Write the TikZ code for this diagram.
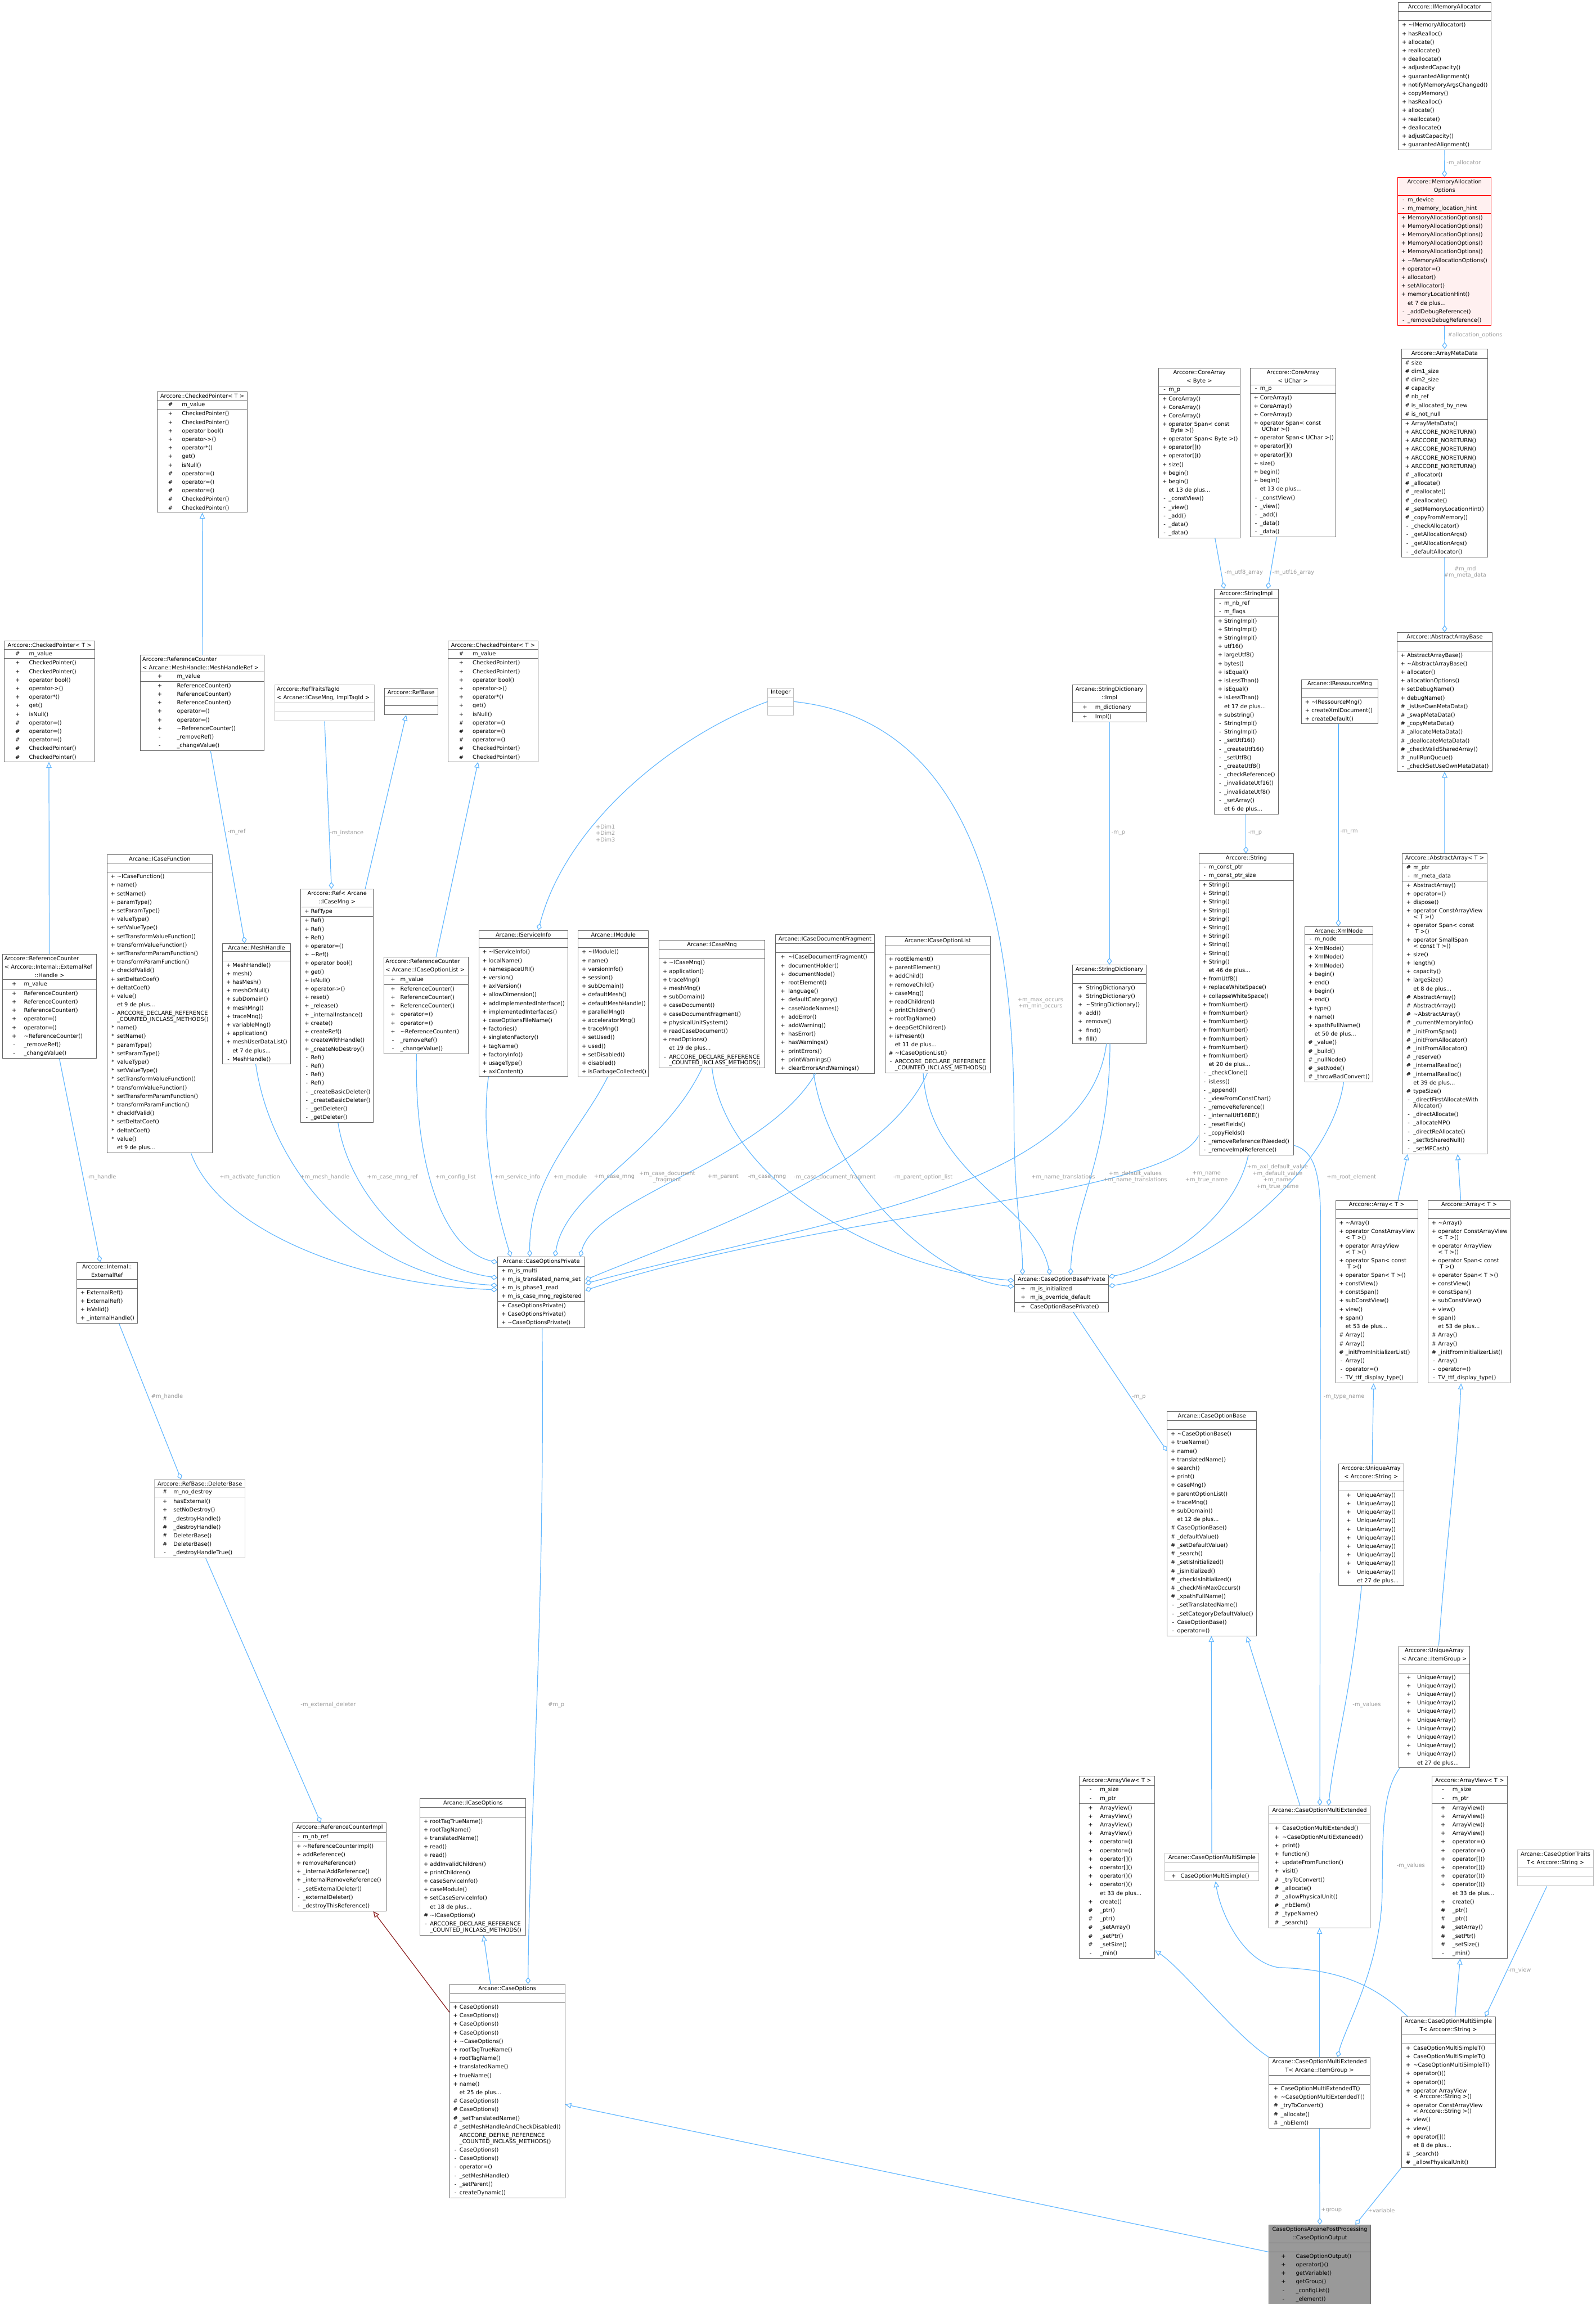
\documentclass[tikz,border=0pt]{standalone}
\usepackage{fontspec}
\setmainfont{DejaVu Sans}
\usetikzlibrary{shapes.multipart,arrows.meta}

\definecolor{boxgray}{HTML}{666666}
\definecolor{undocgray}{HTML}{BFBFBF}
\definecolor{edgeblue}{HTML}{63B8FF}
\definecolor{edgered}{HTML}{8B1A1A}
\definecolor{labelgray}{HTML}{9A9A9A}
\definecolor{allocred}{HTML}{FF0000}
\definecolor{allocfill}{HTML}{FFF0F0}
\definecolor{maingray}{HTML}{999999}

\newlength\visw
\newcommand\classfont{\fontsize{3.67}{5.69}\selectfont\setlength\visw{5.4pt}}
\newcommand\labelfont{\fontsize{3.67}{4.4}\selectfont}
\newcommand\vpub{\makebox[\visw][c]{+}}
\newcommand\vpri{\makebox[\visw][c]{-}}
\newcommand\vpro{\makebox[\visw][c]{\#}}
\newcommand\vpkg{\makebox[\visw][c]{*}}
\newcommand\vno{\makebox[\visw][c]{}}
\newcommand\tld{\textasciitilde}
\newcommand\wrapnl{\\[-1.7pt]}
\newcommand\emptypart{\rule{0pt}{3.4pt}}
\newcommand\ctitle[1]{\makebox[\hsize][c]{#1}}

\tikzset{
  classbox/.style={rectangle split, rectangle split parts=3, draw=boxgray, line width=0.35pt,
    fill=white, font=\classfont, align=left, inner xsep=1.2pt, inner ysep=1.15pt, anchor=north west},
  undoc/.style={classbox, draw=undocgray},
  vis/.style={font={\classfont\setlength\visw{#1}}},
  uses/.style={draw=edgeblue, line width=0.45pt, -{Diamond[open, length=4.6pt, width=3.4pt]}},
  isa/.style={draw=edgeblue, line width=0.45pt, -{Triangle[open, length=4pt, width=3.6pt]}},
  isaprot/.style={isa, draw=edgered},
  elabel/.style={font=\labelfont, text=labelgray, inner sep=0pt, align=center},
}

\begin{document}
\catcode`\_=12
\begin{tikzpicture}[x=0.03437cm, y=-0.03437cm]
  \fill[white] (0,0) rectangle (1086,1568);
  \useasboundingbox (0,0) rectangle (1086,1568);

  % Allocator column (top right)
  \node[classbox, text width=59.1pt] (imemalloc) at (951.4,1.4)
    {\ctitle{Arccore::IMemoryAllocator}
     \nodepart{second}\emptypart
     \nodepart{third}\vpub\tld IMemoryAllocator()\\ \vpub hasRealloc()\\ \vpub allocate()\\
     \vpub reallocate()\\ \vpub deallocate()\\ \vpub adjustedCapacity()\\ \vpub guarantedAlignment()\\
     \vpub notifyMemoryArgsChanged()\\ \vpub copyMemory()\\ \vpub hasRealloc()\\ \vpub allocate()\\
     \vpub reallocate()\\ \vpub deallocate()\\ \vpub adjustCapacity()\\ \vpub guarantedAlignment()};

  \node[classbox, draw=allocred, fill=allocfill, text width=59.9pt] (memopts) at (950.9,120.5)
    {\ctitle{Arccore::MemoryAllocation}\\\ctitle{Options}
     \nodepart{second}\vpri m_device\\ \vpri m_memory_location_hint
     \nodepart{third}\vpub MemoryAllocationOptions()\\ \vpub MemoryAllocationOptions()\\
     \vpub MemoryAllocationOptions()\\ \vpub MemoryAllocationOptions()\\ \vpub MemoryAllocationOptions()\\
     \vpub\tld MemoryAllocationOptions()\\ \vpub operator=()\\ \vpub allocator()\\ \vpub setAllocator()\\
     \vpub memoryLocationHint()\\ \vno et 7 de plus...\\ \vpri _addDebugReference()\\
     \vpri _removeDebugReference()};

  \node[classbox, text width=55pt] (arraymd) at (953.5,237.5)
    {\ctitle{Arccore::ArrayMetaData}
     \nodepart{second}\vpro size\\ \vpro dim1_size\\ \vpro dim2_size\\ \vpro capacity\\ \vpro nb_ref\\
     \vpro is_allocated_by_new\\ \vpro is_not_null
     \nodepart{third}\vpub ArrayMetaData()\\ \vpub ARCCORE_NORETURN()\\ \vpub ARCCORE_NORETURN()\\
     \vpub ARCCORE_NORETURN()\\ \vpub ARCCORE_NORETURN()\\ \vpub ARCCORE_NORETURN()\\
     \vpro _allocator()\\ \vpro _allocate()\\ \vpro _reallocate()\\ \vpro _deallocate()\\
     \vpro _setMemoryLocationHint()\\ \vpro _copyFromMemory()\\ \vpri _checkAllocator()\\
     \vpri _getAllocationArgs()\\ \vpri _getAllocationArgs()\\ \vpri _defaultAllocator()};

  \node[classbox, text width=60.9pt] (absarraybase) at (950.5,430.2)
    {\ctitle{Arccore::AbstractArrayBase}
     \nodepart{second}\emptypart
     \nodepart{third}\vpub AbstractArrayBase()\\ \vpub\tld AbstractArrayBase()\\ \vpub allocator()\\
     \vpub allocationOptions()\\ \vpub setDebugName()\\ \vpub debugName()\\ \vpro _isUseOwnMetaData()\\
     \vpro _swapMetaData()\\ \vpro _copyMetaData()\\ \vpro _allocateMetaData()\\
     \vpro _deallocateMetaData()\\ \vpro _checkValidSharedArray()\\ \vpro _nullRunQueue()\\
     \vpri _checkSetUseOwnMetaData()};

  % String column
  \node[classbox, text width=51.7pt] (corebyte) at (788.3,250.4)
    {\ctitle{Arccore::CoreArray}\\\ctitle{<~Byte~>}
     \nodepart{second}\vpri m_p
     \nodepart{third}\vpub CoreArray()\\ \vpub CoreArray()\\ \vpub CoreArray()\\
     \vpub operator~Span<~const\wrapnl\vno\ Byte~>()\\ \vpub operator~Span<~Byte~>()\\
     \vpub operator[]()\\ \vpub operator[]()\\ \vpub size()\\ \vpub begin()\\ \vpub begin()\\
     \vno et 13 de plus...\\ \vpri _constView()\\ \vpri _view()\\ \vpri _add()\\ \vpri _data()\\
     \vpri _data()};

  \node[classbox, text width=54.5pt] (coreuchar) at (850.5,250.4)
    {\ctitle{Arccore::CoreArray}\\\ctitle{<~UChar~>}
     \nodepart{second}\vpri m_p
     \nodepart{third}\vpub CoreArray()\\ \vpub CoreArray()\\ \vpub CoreArray()\\
     \vpub operator~Span<~const\wrapnl\vno\ UChar~>()\\ \vpub operator~Span<~UChar~>()\\
     \vpub operator[]()\\ \vpub operator[]()\\ \vpub size()\\ \vpub begin()\\ \vpub begin()\\
     \vno et 13 de plus...\\ \vpri _constView()\\ \vpri _view()\\ \vpri _add()\\ \vpri _data()\\
     \vpri _data()};

  \node[classbox, text width=40.1pt] (strimpl) at (826.1,400.8)
    {\ctitle{Arccore::StringImpl}
     \nodepart{second}\vpri m_nb_ref\\ \vpri m_flags
     \nodepart{third}\vpub StringImpl()\\ \vpub StringImpl()\\ \vpub StringImpl()\\ \vpub utf16()\\
     \vpub largeUtf8()\\ \vpub bytes()\\ \vpub isEqual()\\ \vpub isLessThan()\\ \vpub isEqual()\\
     \vpub isLessThan()\\ \vno et 17 de plus...\\ \vpub substring()\\ \vpri StringImpl()\\
     \vpri StringImpl()\\ \vpri _setUtf16()\\ \vpri _createUtf16()\\ \vpri _setUtf8()\\
     \vpri _createUtf8()\\ \vpri _checkReference()\\ \vpri _invalidateUtf16()\\
     \vpri _invalidateUtf8()\\ \vpri _setArray()\\ \vno et 6 de plus...};

  \node[classbox, text width=60.7pt] (string) at (815.6,580.7)
    {\ctitle{Arccore::String}
     \nodepart{second}\vpri m_const_ptr\\ \vpri m_const_ptr_size
     \nodepart{third}\vpub String()\\ \vpub String()\\ \vpub String()\\ \vpub String()\\
     \vpub String()\\ \vpub String()\\ \vpub String()\\ \vpub String()\\ \vpub String()\\
     \vpub String()\\ \vno et 46 de plus...\\ \vpub fromUtf8()\\ \vpub replaceWhiteSpace()\\
     \vpub collapseWhiteSpace()\\ \vpub fromNumber()\\ \vpub fromNumber()\\ \vpub fromNumber()\\
     \vpub fromNumber()\\ \vpub fromNumber()\\ \vpub fromNumber()\\ \vpub fromNumber()\\
     \vno et 20 de plus...\\ \vpri _checkClone()\\ \vpri isLess()\\ \vpri _append()\\
     \vpri _viewFromConstChar()\\ \vpri _removeReference()\\ \vpri _internalUtf16BE()\\
     \vpri _resetFields()\\ \vpri _copyFields()\\ \vpri _removeReferenceIfNeeded()\\
     \vpri _removeImplReference()};

  \node[classbox, vis=13.9pt, text width=46.6pt] (sdimpl) at (729.7,466)
    {\ctitle{Arcane::StringDictionary}\\\ctitle{::Impl}
     \nodepart{second}\vpub m_dictionary
     \nodepart{third}\vpub Impl()};

  \node[classbox, vis=7.8pt, text width=46.6pt] (strdict) at (729.7,656.5)
    {\ctitle{Arcane::StringDictionary}
     \nodepart{second}\emptypart
     \nodepart{third}\vpub StringDictionary()\\ \vpub StringDictionary()\\ \vpub\tld StringDictionary()\\
     \vpub add()\\ \vpub remove()\\ \vpub find()\\ \vpub fill()};

  \node[undoc, text width=14.7pt] (integer) at (522.3,468)
    {\ctitle{Integer}
     \nodepart{second}\emptypart
     \nodepart{third}\emptypart};

  \node[classbox, text width=48.4pt] (ressmng) at (885.5,462.3)
    {\ctitle{Arcane::IRessourceMng}
     \nodepart{second}\emptypart
     \nodepart{third}\vpub\tld IRessourceMng()\\ \vpub createXmlDocument()\\ \vpub createDefault()};

  \node[classbox, text width=42.9pt] (xmlnode) at (887.6,630.4)
    {\ctitle{Arcane::XmlNode}
     \nodepart{second}\vpri m_node
     \nodepart{third}\vpub XmlNode()\\ \vpub XmlNode()\\ \vpub XmlNode()\\ \vpub begin()\\ \vpub end()\\
     \vpub begin()\\ \vpub end()\\ \vpub type()\\ \vpub name()\\ \vpub xpathFullName()\\
     \vno et 50 de plus...\\ \vpro _value()\\ \vpro _build()\\ \vpro _nullNode()\\ \vpro _setNode()\\
     \vpro _throwBadConvert()};

  % Arrays
  \node[classbox, vis=6.2pt, text width=54.1pt] (absarray) at (954,580.9)
    {\ctitle{Arccore::AbstractArray<~T~>}
     \nodepart{second}\vpro m_ptr\\ \vpri m_meta_data
     \nodepart{third}\vpub AbstractArray()\\ \vpub operator=()\\ \vpub dispose()\\
     \vpub operator~ConstArrayView\wrapnl\vno <~T~>()\\ \vpub operator~Span<~const\wrapnl\vno\ T~>()\\
     \vpub operator~SmallSpan\wrapnl\vno <~const~T~>()\\ \vpub size()\\ \vpub length()\\
     \vpub capacity()\\ \vpub largeSize()\\ \vno et 8 de plus...\\ \vpro AbstractArray()\\
     \vpro AbstractArray()\\ \vpro\tld AbstractArray()\\ \vpro _currentMemoryInfo()\\
     \vpro _initFromSpan()\\ \vpro _initFromAllocator()\\ \vpro _initFromAllocator()\\
     \vpro _reserve()\\ \vpro _internalRealloc()\\ \vpro _internalRealloc()\\ \vno et 39 de plus...\\
     \vpro typeSize()\\ \vpri _directFirstAllocateWith\wrapnl\vno Allocator()\\ \vpri _directAllocate()\\
     \vpri _allocateMP()\\ \vpri _directReAllocate()\\ \vpri _setToSharedNull()\\ \vpri _setMPCast()};

  \node[classbox, vis=5.5pt, text width=52.5pt] (arrayA) at (908.6,816.8)
    {\ctitle{Arccore::Array<~T~>}
     \nodepart{second}\emptypart
     \nodepart{third}\vpub\tld Array()\\ \vpub operator~ConstArrayView\wrapnl\vno <~T~>()\\
     \vpub operator~ArrayView\wrapnl\vno <~T~>()\\ \vpub operator~Span<~const\wrapnl\vno\ T~>()\\
     \vpub operator~Span<~T~>()\\ \vpub constView()\\ \vpub constSpan()\\ \vpub subConstView()\\
     \vpub view()\\ \vpub span()\\ \vno et 53 de plus...\\ \vpro Array()\\ \vpro Array()\\
     \vpro _initFromInitializerList()\\ \vpri Array()\\ \vpri operator=()\\ \vpri TV_ttf_display_type()};

  \node[classbox, vis=5.5pt, text width=52.3pt] (arrayB) at (971.6,816.8)
    {\ctitle{Arccore::Array<~T~>}
     \nodepart{second}\emptypart
     \nodepart{third}\vpub\tld Array()\\ \vpub operator~ConstArrayView\wrapnl\vno <~T~>()\\
     \vpub operator~ArrayView\wrapnl\vno <~T~>()\\ \vpub operator~Span<~const\wrapnl\vno\ T~>()\\
     \vpub operator~Span<~T~>()\\ \vpub constView()\\ \vpub constSpan()\\ \vpub subConstView()\\
     \vpub view()\\ \vpub span()\\ \vno et 53 de plus...\\ \vpro Array()\\ \vpro Array()\\
     \vpro _initFromInitializerList()\\ \vpri Array()\\ \vpri operator=()\\ \vpri TV_ttf_display_type()};

  \node[classbox, vis=11.1pt, text width=40.9pt] (uastring) at (910.7,996)
    {\ctitle{Arccore::UniqueArray}\\\ctitle{<~Arccore::String~>}
     \nodepart{second}\emptypart
     \nodepart{third}\vpub UniqueArray()\\ \vpub UniqueArray()\\ \vpub UniqueArray()\\ \vpub UniqueArray()\\
     \vpub UniqueArray()\\ \vpub UniqueArray()\\ \vpub UniqueArray()\\ \vpub UniqueArray()\\
     \vpub UniqueArray()\\ \vpub UniqueArray()\\ \vno et 27 de plus...};

  \node[classbox, vis=11.1pt, text width=44.9pt] (uaitemgroup) at (951.6,1120)
    {\ctitle{Arccore::UniqueArray}\\\ctitle{<~Arcane::ItemGroup~>}
     \nodepart{second}\emptypart
     \nodepart{third}\vpub UniqueArray()\\ \vpub UniqueArray()\\ \vpub UniqueArray()\\ \vpub UniqueArray()\\
     \vpub UniqueArray()\\ \vpub UniqueArray()\\ \vpub UniqueArray()\\ \vpub UniqueArray()\\
     \vpub UniqueArray()\\ \vpub UniqueArray()\\ \vno et 27 de plus...};

  % Case option classes
  \node[classbox, vis=9.3pt, text width=60.2pt] (cobprivate) at (690.1,867.6)
    {\ctitle{Arcane::CaseOptionBasePrivate}
     \nodepart{second}\vpub m_is_initialized\\ \vpub m_is_override_default
     \nodepart{third}\vpub CaseOptionBasePrivate()};

  \node[classbox, text width=57pt] (cobase) at (794.1,960.3)
    {\ctitle{Arcane::CaseOptionBase}
     \nodepart{second}\emptypart
     \nodepart{third}\vpub\tld CaseOptionBase()\\ \vpub trueName()\\ \vpub name()\\ \vpub translatedName()\\
     \vpub search()\\ \vpub print()\\ \vpub caseMng()\\ \vpub parentOptionList()\\ \vpub traceMng()\\
     \vpub subDomain()\\ \vno et 12 de plus...\\ \vpro CaseOptionBase()\\ \vpro _defaultValue()\\
     \vpro _setDefaultValue()\\ \vpro _search()\\ \vpro _setIsInitialized()\\ \vpro _isInitialized()\\
     \vpro _checkIsInitialized()\\ \vpro _checkMinMaxOccurs()\\ \vpro _xpathFullName()\\
     \vpri _setTranslatedName()\\ \vpri _setCategoryDefaultValue()\\ \vpri CaseOptionBase()\\
     \vpri operator=()};

  \node[classbox, vis=12.5pt, text width=47.6pt] (viewA) at (734.3,1208.5)
    {\ctitle{Arccore::ArrayView<~T~>}
     \nodepart{second}\vpri m_size\\ \vpri m_ptr
     \nodepart{third}\vpub ArrayView()\\ \vpub ArrayView()\\ \vpub ArrayView()\\ \vpub ArrayView()\\
     \vpub operator=()\\ \vpub operator=()\\ \vpub operator[]()\\ \vpub operator[]()\\
     \vpub operator()()\\ \vpub operator()()\\ \vno et 33 de plus...\\ \vpub create()\\ \vpro _ptr()\\
     \vpro _ptr()\\ \vpro _setArray()\\ \vpro _setPtr()\\ \vpro _setSize()\\ \vpri _min()};

  \node[classbox, vis=12.5pt, text width=47.7pt] (viewB) at (974.2,1208.5)
    {\ctitle{Arccore::ArrayView<~T~>}
     \nodepart{second}\vpri m_size\\ \vpri m_ptr
     \nodepart{third}\vpub ArrayView()\\ \vpub ArrayView()\\ \vpub ArrayView()\\ \vpub ArrayView()\\
     \vpub operator=()\\ \vpub operator=()\\ \vpub operator[]()\\ \vpub operator[]()\\
     \vpub operator()()\\ \vpub operator()()\\ \vno et 33 de plus...\\ \vpub create()\\ \vpro _ptr()\\
     \vpro _ptr()\\ \vpro _setArray()\\ \vpro _setPtr()\\ \vpro _setSize()\\ \vpri _min()};

  \node[undoc, vis=9.3pt, text width=60.2pt] (multisimple) at (792.5,1261)
    {\ctitle{Arcane::CaseOptionMultiSimple}
     \nodepart{second}\emptypart
     \nodepart{third}\vpub CaseOptionMultiSimple()};

  \node[classbox, vis=7.7pt, text width=64.7pt] (multiext) at (863.4,1228.7)
    {\ctitle{Arcane::CaseOptionMultiExtended}
     \nodepart{second}\emptypart
     \nodepart{third}\vpub CaseOptionMultiExtended()\\ \vpub\tld CaseOptionMultiExtended()\\ \vpub print()\\
     \vpub function()\\ \vpub updateFromFunction()\\ \vpub visit()\\ \vpro _tryToConvert()\\
     \vpro _allocate()\\ \vpro _allowPhysicalUnit()\\ \vpro _nbElem()\\ \vpro _typeName()\\
     \vpro _search()};

  \node[undoc, text width=48.1pt] (traits) at (1032.5,1258.8)
    {\ctitle{Arcane::CaseOptionTraits}\\\ctitle{T<~Arccore::String~>}
     \nodepart{second}\emptypart
     \nodepart{third}\emptypart};

  \node[classbox, vis=6.6pt, text width=64.7pt] (multiextT) at (863.4,1400)
    {\ctitle{Arcane::CaseOptionMultiExtended}\\\ctitle{T<~Arcane::ItemGroup~>}
     \nodepart{second}\emptypart
     \nodepart{third}\vpub CaseOptionMultiExtendedT()\\ \vpub\tld CaseOptionMultiExtendedT()\\
     \vpro _tryToConvert()\\ \vpro _allocate()\\ \vpro _nbElem()};

  \node[classbox, vis=6.8pt, text width=60.2pt] (multisimpleT) at (953.4,1372.3)
    {\ctitle{Arcane::CaseOptionMultiSimple}\\\ctitle{T<~Arccore::String~>}
     \nodepart{second}\emptypart
     \nodepart{third}\vpub CaseOptionMultiSimpleT()\\ \vpub CaseOptionMultiSimpleT()\\
     \vpub\tld CaseOptionMultiSimpleT()\\ \vpub operator()()\\ \vpub operator()()\\
     \vpub operator~ArrayView\wrapnl\vno <~Arccore::String~>()\\
     \vpub operator~ConstArrayView\wrapnl\vno <~Arccore::String~>()\\ \vpub view()\\ \vpub view()\\
     \vpub operator[]()\\ \vno et 8 de plus...\\ \vpro _search()\\ \vpro _allowPhysicalUnit()};

  \node[classbox, fill=maingray, vis=16.7pt, text width=65.1pt] (output) at (863.4,1514)
    {\ctitle{CaseOptionsArcanePostProcessing}\\\ctitle{::CaseOptionOutput}
     \nodepart{second}\emptypart
     \nodepart{third}\vpub CaseOptionOutput()\\ \vpub operator()()\\ \vpub getVariable()\\ \vpub getGroup()\\
     \vpri _configList()\\ \vpri _element()};

  % Case options (bottom left)
  \node[classbox, text width=74.3pt] (caseoptions) at (305.8,1350.3)
    {\ctitle{Arcane::CaseOptions}
     \nodepart{second}\emptypart
     \nodepart{third}\vpub CaseOptions()\\ \vpub CaseOptions()\\ \vpub CaseOptions()\\ \vpub CaseOptions()\\
     \vpub\tld CaseOptions()\\ \vpub rootTagTrueName()\\ \vpub rootTagName()\\ \vpub translatedName()\\
     \vpub trueName()\\ \vpub name()\\ \vno et 25 de plus...\\ \vpro CaseOptions()\\ \vpro CaseOptions()\\
     \vpro _setTranslatedName()\\ \vpro _setMeshHandleAndCheckDisabled()\\
     \vno ARCCORE_DEFINE_REFERENCE\wrapnl\vno _COUNTED_INCLASS_METHODS()\\ \vpri CaseOptions()\\
     \vpri CaseOptions()\\ \vpri operator=()\\ \vpri _setMeshHandle()\\ \vpri _setParent()\\
     \vpri createDynamic()};

  \node[classbox, text width=68pt] (icaseoptions) at (285.7,1223.8)
    {\ctitle{Arcane::ICaseOptions}
     \nodepart{second}\emptypart
     \nodepart{third}\vpub rootTagTrueName()\\ \vpub rootTagName()\\ \vpub translatedName()\\ \vpub read()\\
     \vpub read()\\ \vpub addInvalidChildren()\\ \vpub printChildren()\\ \vpub caseServiceInfo()\\
     \vpub caseModule()\\ \vpub setCaseServiceInfo()\\ \vno et 18 de plus...\\ \vpro\tld ICaseOptions()\\
     \vpri ARCCORE_DECLARE_REFERENCE\wrapnl\vno _COUNTED_INCLASS_METHODS()};

  \node[classbox, text width=59.6pt] (refcntimpl) at (199.2,1240.4)
    {\ctitle{Arccore::ReferenceCounterImpl}
     \nodepart{second}\vpri m_nb_ref
     \nodepart{third}\vpub\tld ReferenceCounterImpl()\\ \vpub addReference()\\ \vpub removeReference()\\
     \vpub _internalAddReference()\\ \vpub _internalRemoveReference()\\ \vpri _setExternalDeleter()\\
     \vpri _externalDeleter()\\ \vpri _destroyThisReference()};

  \node[undoc, vis=11.4pt, text width=57.8pt] (deleterbase) at (105,1006.7)
    {\ctitle{Arccore::RefBase::DeleterBase}
     \nodepart{second}\vpro m_no_destroy
     \nodepart{third}\vpub hasExternal()\\ \vpub setNoDestroy()\\ \vpro _destroyHandle()\\
     \vpro _destroyHandle()\\ \vpro DeleterBase()\\ \vpro DeleterBase()\\ \vpri _destroyHandleTrue()};

  \node[classbox, text width=37.8pt] (externalref) at (52.1,858.9)
    {\ctitle{Arccore::Internal::}\\\ctitle{ExternalRef}
     \nodepart{second}\emptypart
     \nodepart{third}\vpub ExternalRef()\\ \vpub ExternalRef()\\ \vpub isValid()\\ \vpub _internalHandle()};

  % Reference counting column (left)
  \node[classbox, vis=13pt, text width=60.1pt] (refcnthandle) at (1.6,649.2)
    {Arccore::ReferenceCounter\\<~Arccore::Internal::ExternalRef\\\ctitle{::Handle~>}
     \nodepart{second}\vpub m_value
     \nodepart{third}\vpub ReferenceCounter()\\ \vpub ReferenceCounter()\\ \vpub ReferenceCounter()\\
     \vpub operator=()\\ \vpub operator=()\\ \vpub\tld ReferenceCounter()\\ \vpri _removeRef()\\
     \vpri _changeValue()};

  \node[classbox, vis=15.2pt, text width=57.8pt] (checkedA) at (2.8,436)
    {\ctitle{Arccore::CheckedPointer<~T~>}
     \nodepart{second}\vpro m_value
     \nodepart{third}\vpub CheckedPointer()\\ \vpub CheckedPointer()\\ \vpub operator~bool()\\
     \vpub operator->()\\ \vpub operator*()\\ \vpub get()\\ \vpub isNull()\\ \vpro operator=()\\
     \vpro operator=()\\ \vpro operator=()\\ \vpro CheckedPointer()\\ \vpro CheckedPointer()};

  \node[classbox, vis=15.2pt, text width=57.6pt] (checkedB) at (106.8,266.4)
    {\ctitle{Arccore::CheckedPointer<~T~>}
     \nodepart{second}\vpro m_value
     \nodepart{third}\vpub CheckedPointer()\\ \vpub CheckedPointer()\\ \vpub operator~bool()\\
     \vpub operator->()\\ \vpub operator*()\\ \vpub get()\\ \vpub isNull()\\ \vpro operator=()\\
     \vpro operator=()\\ \vpro operator=()\\ \vpro CheckedPointer()\\ \vpro CheckedPointer()};

  \node[classbox, vis=23pt, text width=79.9pt] (refcntmesh) at (95.5,445.6)
    {Arccore::ReferenceCounter\\<~Arcane::MeshHandle::MeshHandleRef~>
     \nodepart{second}\vpub m_value
     \nodepart{third}\vpub ReferenceCounter()\\ \vpub ReferenceCounter()\\ \vpub ReferenceCounter()\\
     \vpub operator=()\\ \vpub operator=()\\ \vpub\tld ReferenceCounter()\\ \vpri _removeRef()\\
     \vpri _changeValue()};

  \node[undoc, text width=63.5pt] (reftraits) at (187,466)
    {Arccore::RefTraitsTagId\\<~Arcane::ICaseMng,~ImplTagId~>
     \nodepart{second}\emptypart
     \nodepart{third}\emptypart};

  \node[classbox, text width=33.1pt] (refbase) at (261.4,468.1)
    {\ctitle{Arccore::RefBase}
     \nodepart{second}\emptypart
     \nodepart{third}\emptypart};

  \node[classbox, vis=15.2pt, text width=57.6pt] (checkedC) at (304.7,436)
    {\ctitle{Arccore::CheckedPointer<~T~>}
     \nodepart{second}\vpro m_value
     \nodepart{third}\vpub CheckedPointer()\\ \vpub CheckedPointer()\\ \vpub operator~bool()\\
     \vpub operator->()\\ \vpub operator*()\\ \vpub get()\\ \vpub isNull()\\ \vpro operator=()\\
     \vpro operator=()\\ \vpro operator=()\\ \vpro CheckedPointer()\\ \vpro CheckedPointer()};

  % Members of CaseOptionsPrivate (middle row)
  \node[classbox, text width=67.6pt] (icasefunction) at (72.7,581.6)
    {\ctitle{Arcane::ICaseFunction}
     \nodepart{second}\emptypart
     \nodepart{third}\vpub\tld ICaseFunction()\\ \vpub name()\\ \vpub setName()\\ \vpub paramType()\\
     \vpub setParamType()\\ \vpub valueType()\\ \vpub setValueType()\\ \vpub setTransformValueFunction()\\
     \vpub transformValueFunction()\\ \vpub setTransformParamFunction()\\ \vpub transformParamFunction()\\
     \vpub checkIfValid()\\ \vpub setDeltatCoef()\\ \vpub deltatCoef()\\ \vpub value()\\
     \vno et 9 de plus...\\ \vpri ARCCORE_DECLARE_REFERENCE\wrapnl\vno _COUNTED_INCLASS_METHODS()\\
     \vpkg name()\\ \vpkg setName()\\ \vpkg paramType()\\ \vpkg setParamType()\\ \vpkg valueType()\\
     \vpkg setValueType()\\ \vpkg setTransformValueFunction()\\ \vpkg transformValueFunction()\\
     \vpkg setTransformParamFunction()\\ \vpkg transformParamFunction()\\ \vpkg checkIfValid()\\
     \vpkg setDeltatCoef()\\ \vpkg deltatCoef()\\ \vpkg value()\\ \vno et 9 de plus...};

  \node[classbox, text width=42.7pt] (meshhandle) at (151.3,641.9)
    {\ctitle{Arcane::MeshHandle}
     \nodepart{second}\emptypart
     \nodepart{third}\vpub MeshHandle()\\ \vpub mesh()\\ \vpub hasMesh()\\ \vpub meshOrNull()\\
     \vpub subDomain()\\ \vpub meshMng()\\ \vpub traceMng()\\ \vpub variableMng()\\ \vpub application()\\
     \vpub meshUserDataList()\\ \vno et 7 de plus...\\ \vpri MeshHandle()};

  \node[classbox, text width=45.7pt] (refcasemng) at (204.6,604.9)
    {\ctitle{Arccore::Ref<~Arcane}\\\ctitle{::ICaseMng~>}
     \nodepart{second}\vpub RefType
     \nodepart{third}\vpub Ref()\\ \vpub Ref()\\ \vpub Ref()\\ \vpub operator=()\\ \vpub\tld Ref()\\
     \vpub operator~bool()\\ \vpub get()\\ \vpub isNull()\\ \vpub operator->()\\ \vpub reset()\\
     \vpub _release()\\ \vpub _internalInstance()\\ \vpub create()\\ \vpub createRef()\\
     \vpub createWithHandle()\\ \vpub _createNoDestroy()\\ \vpri Ref()\\ \vpri Ref()\\ \vpri Ref()\\
     \vpri Ref()\\ \vpri _createBasicDeleter()\\ \vpri _createBasicDeleter()\\ \vpri _getDeleter()\\
     \vpri _getDeleter()};

  \node[classbox, vis=9.8pt, text width=53.8pt] (refcntlist) at (261,651.2)
    {Arccore::ReferenceCounter\\<~Arcane::ICaseOptionList~>
     \nodepart{second}\vpub m_value
     \nodepart{third}\vpub ReferenceCounter()\\ \vpub ReferenceCounter()\\ \vpub ReferenceCounter()\\
     \vpub operator=()\\ \vpub operator=()\\ \vpub\tld ReferenceCounter()\\ \vpri _removeRef()\\
     \vpri _changeValue()};

  \node[classbox, text width=56.9pt] (iserviceinfo) at (325.6,633)
    {\ctitle{Arcane::IServiceInfo}
     \nodepart{second}\emptypart
     \nodepart{third}\vpub\tld IServiceInfo()\\ \vpub localName()\\ \vpub namespaceURI()\\ \vpub version()\\
     \vpub axlVersion()\\ \vpub allowDimension()\\ \vpub addImplementedInterface()\\
     \vpub implementedInterfaces()\\ \vpub caseOptionsFileName()\\ \vpub factories()\\
     \vpub singletonFactory()\\ \vpub tagName()\\ \vpub factoryInfo()\\ \vpub usageType()\\
     \vpub axlContent()};

  \node[classbox, text width=44.3pt] (imodule) at (393.3,633)
    {\ctitle{Arcane::IModule}
     \nodepart{second}\emptypart
     \nodepart{third}\vpub\tld IModule()\\ \vpub name()\\ \vpub versionInfo()\\ \vpub session()\\
     \vpub subDomain()\\ \vpub defaultMesh()\\ \vpub defaultMeshHandle()\\ \vpub parallelMng()\\
     \vpub acceleratorMng()\\ \vpub traceMng()\\ \vpub setUsed()\\ \vpub used()\\ \vpub setDisabled()\\
     \vpub disabled()\\ \vpub isGarbageCollected()};

  \node[classbox, text width=67.8pt] (icasemng) at (448.4,639.6)
    {\ctitle{Arcane::ICaseMng}
     \nodepart{second}\emptypart
     \nodepart{third}\vpub\tld ICaseMng()\\ \vpub application()\\ \vpub traceMng()\\ \vpub meshMng()\\
     \vpub subDomain()\\ \vpub caseDocument()\\ \vpub caseDocumentFragment()\\ \vpub physicalUnitSystem()\\
     \vpub readCaseDocument()\\ \vpub readOptions()\\ \vno et 19 de plus...\\
     \vpri ARCCORE_DECLARE_REFERENCE\wrapnl\vno _COUNTED_INCLASS_METHODS()};

  \node[classbox, vis=7.5pt, text width=63.7pt] (icasedocfrag) at (527.4,635.8)
    {\ctitle{Arcane::ICaseDocumentFragment}
     \nodepart{second}\emptypart
     \nodepart{third}\vpub\tld ICaseDocumentFragment()\\ \vpub documentHolder()\\ \vpub documentNode()\\
     \vpub rootElement()\\ \vpub language()\\ \vpub defaultCategory()\\ \vpub caseNodeNames()\\
     \vpub addError()\\ \vpub addWarning()\\ \vpub hasError()\\ \vpub hasWarnings()\\ \vpub printErrors()\\
     \vpub printWarnings()\\ \vpub clearErrorsAndWarnings()};

  \node[classbox, text width=67.7pt] (icaseoptionlist) at (602.1,637.1)
    {\ctitle{Arcane::ICaseOptionList}
     \nodepart{second}\emptypart
     \nodepart{third}\vpub rootElement()\\ \vpub parentElement()\\ \vpub addChild()\\ \vpub removeChild()\\
     \vpub caseMng()\\ \vpub readChildren()\\ \vpub printChildren()\\ \vpub rootTagName()\\
     \vpub deepGetChildren()\\ \vpub isPresent()\\ \vno et 11 de plus...\\ \vpro\tld ICaseOptionList()\\
     \vpri ARCCORE_DECLARE_REFERENCE\wrapnl\vno _COUNTED_INCLASS_METHODS()};

  \node[classbox, text width=55.6pt] (coprivate) at (338.5,855.2)
    {\ctitle{Arcane::CaseOptionsPrivate}
     \nodepart{second}\vpub m_is_multi\\ \vpub m_is_translated_name_set\\ \vpub m_is_phase1_read\\
     \vpub m_is_case_mng_registered
     \nodepart{third}\vpub CaseOptionsPrivate()\\ \vpub CaseOptionsPrivate()\\ \vpub\tld CaseOptionsPrivate()};

  % Draw the allocator and array connectors
  \draw[uses] (imemalloc.south) -- (memopts.north);
  \draw[uses] (memopts.south) -- (arraymd.north);
  \draw[uses] (arraymd.south) -- (absarraybase.north);
  \draw[isa] (absarray.north) -- (absarraybase.south);
  \draw[isa] (951.3,0 |- arrayA.north) -- (957.8,0 |- absarray.south);
  \draw[isa] (994,0 |- arrayB.north) -- (991.9,0 |- absarray.south);
  \draw[isa] (933.7,0 |- uastring.north) -- (934.7,0 |- arrayA.south);
  \draw[isa] (979,0 |- uaitemgroup.north) .. controls (984,1050) and (992,990) .. (994.2,0 |- arrayB.south);

  % Draw the string connectors
  \draw[uses] (826.8,0 |- corebyte.south) -- (833,0 |- strimpl.north);
  \draw[uses] (868.7,0 |- coreuchar.south) -- (862.7,0 |- strimpl.north);
  \draw[uses] (847.8,0 |- strimpl.south) -- (847.8,0 |- string.north);
  \draw[uses] (sdimpl.south) -- (strdict.north);
  \draw[uses] (910.7,0 |- ressmng.south) -- (910.7,0 |- xmlnode.north);

  % Draw the Integer connectors
  \draw[uses] (integer.west) .. controls (460,500) and (385,560) .. (366.3,0 |- iserviceinfo.north);
  \draw[uses] (integer.east) .. controls (660,490) and (690,620) .. (690,760)
    .. controls (690,820) and (695.8,840) .. (695.8,0 |- cobprivate.north);

  % Draw the left column connectors
  \draw[isa] (33.5,0 |- refcnthandle.north) -- (33.3,0 |- checkedA.south);
  \draw[isa] (refcntmesh.north) -- (checkedB.south);
  \draw[uses] (143.3,0 |- refcntmesh.south) -- (166.6,0 |- meshhandle.north);
  \draw[uses] (reftraits.south) -- (225.6,0 |- refcasemng.north);
  \draw[isa] (248.5,0 |- refcasemng.north) -- (276.4,0 |- refbase.south);
  \draw[isa] (296.7,0 |- refcntlist.north) -- (325.3,0 |- checkedC.south);
  \draw[uses] (40.4,0 |- refcnthandle.south) -- (68.2,0 |- externalref.north);
  \draw[uses] (81,0 |- externalref.south) -- (123.2,0 |- deleterbase.north);
  \draw[uses] (140,0 |- deleterbase.south) -- (218.2,0 |- refcntimpl.north);

  % Draw the connectors into CaseOptionsPrivate
  \draw[uses] (129.9,0 |- icasefunction.south) .. controls (150,840) and (250,875) .. (coprivate.west |- 0,877.7);
  \draw[uses] (174,0 |- meshhandle.south) .. controls (185,800) and (250,870) .. (coprivate.west |- 0,874.8);
  \draw[uses] (230,0 |- refcasemng.south) .. controls (238,815) and (285,862) .. (coprivate.west |- 0,869.6);
  \draw[uses] (283.4,0 |- refcntlist.south) .. controls (282,790) and (300,850) .. (coprivate.west |- 0,859.2);
  \draw[uses] (332.4,0 |- iserviceinfo.south) .. controls (326,780) and (340,830) .. (347.6,0 |- coprivate.north);
  \draw[uses] (413.5,0 |- imodule.south) .. controls (395,770) and (360,800) .. (360.5,0 |- coprivate.north);
  \draw[uses] (477.7,0 |- icasemng.south) .. controls (450,785) and (385,810) .. (377.6,0 |- coprivate.north);
  \draw[uses] (555,0 |- icasedocfrag.south) .. controls (520,790) and (405,815) .. (394.8,0 |- coprivate.north);
  \draw[uses] (631,0 |- icaseoptionlist.south) .. controls (600,800) and (460,845) .. (coprivate.east |- 0,871.1);
  \draw[uses] (752.9,0 |- strdict.south) .. controls (740,810) and (560,830) .. (coprivate.east |- 0,873.6);
  \draw[uses] (string.west |- 0,772.8) .. controls (795,815) and (560,825) .. (coprivate.east |- 0,878.2);

  % Draw the connectors into CaseOptionBasePrivate
  \draw[uses] (484.5,0 |- icasemng.south) .. controls (495,810) and (610,865) .. (cobprivate.west |- 0,871.5);
  \draw[uses] (553.6,0 |- icasedocfrag.south) .. controls (565,805) and (640,872) .. (cobprivate.west |- 0,875.5);
  \draw[uses] (628.2,0 |- icaseoptionlist.south) .. controls (632,800) and (705,820) .. (714.5,0 |- cobprivate.north);
  \draw[uses] (755.3,0 |- strdict.south) .. controls (755,790) and (730,820) .. (728.5,0 |- cobprivate.north);
  \draw[uses] (849.4,0 |- string.south) .. controls (840,830) and (790,862) .. (cobprivate.east |- 0,869);
  \draw[uses] (914.3,0 |- xmlnode.south) .. controls (905,800) and (820,865) .. (cobprivate.east |- 0,875.3);

  % Draw the CaseOptions connectors
  \draw[uses] (368.9,0 |- coprivate.south) .. controls (371,1100) and (360,1250) .. (359.3,0 |- caseoptions.north);
  \draw[isa] (333.8,0 |- caseoptions.north) -- (329,0 |- icaseoptions.south);
  \draw[isaprot] (caseoptions.west |- 0,1369.4) -- (254,0 |- refcntimpl.south);
  \draw[isa] (output.west |- 0,1532.6) -- (caseoptions.east |- 0,1432.2);

  % Draw the option class connectors
  \draw[uses] (730.3,0 |- cobprivate.south) -- (cobase.west |- 0,987.5);
  \draw[isa] (824.6,0 |- multisimple.north) -- (824.3,0 |- cobase.south);
  \draw[isa] (884.6,0 |- multiext.north) -- (848.4,0 |- cobase.south);
  \draw[uses] (926.5,0 |- uastring.south) .. controls (920,1150) and (908,1190) .. (904,0 |- multiext.north);
  \draw[uses] (string.east |- 0,779.5) .. controls (893,783) and (898.5,795) .. (898.6,830) -- (898.1,0 |- multiext.north);
  \draw[isa] (multiextT.north) -- (multiext.south);
  \draw[uses] (952.5,0 |- uaitemgroup.south) .. controls (940,1220) and (941,1250) .. (940.5,1290)
    .. controls (939,1340) and (915,1380) .. (910.2,0 |- multiextT.north);
  \draw[isa] (multiextT.north west) .. controls (840,1385) and (805,1340) .. (viewA.east |- 0,1327.3);
  \draw[isa] (957.8,0 |- multisimpleT.north) .. controls (930,1345) and (900,1340) .. (870,1339)
    .. controls (845,1335) and (830,1300) .. (827.2,0 |- multisimple.south);
  \draw[isa] (990.1,0 |- multisimpleT.north) -- (993.6,0 |- viewB.south);
  \draw[uses] (1052.6,0 |- traits.south) -- (1010.7,0 |- multisimpleT.north);
  \draw[uses] (multiextT.south) -- (output.north);
  \draw[uses] (multisimpleT.south west) -- (922.3,0 |- output.north);

  % Connector labels
  \node[elabel] (lblallocator) at (996,111) {-m_allocator};
  \node[elabel, anchor=west] (lblallocopts) at (985,228) {\#allocation_options};
  \node[elabel] (lblmeta) at (997,389.5) {\#m_md\\\#m_meta_data};
  \node[elabel] (lblutfeight) at (846.3,389.6) {-m_utf8_array};
  \node[elabel] (lblutfsixteen) at (880,389.6) {-m_utf16_array};
  \node[elabel] (lblstrp) at (854,567) {-m_p};
  \node[elabel] (lbldictp) at (761,567) {-m_p};
  \node[elabel] (lblrm) at (918,566) {-m_rm};
  \node[elabel] (lbldim) at (412,567) {+Dim1\\+Dim2\\+Dim3};
  \node[elabel] (lbloccurs) at (708,683) {+m_max_occurs\\+m_min_occurs};
  \node[elabel] (lblinstance) at (236,567) {-m_instance};
  \node[elabel] (lblref) at (161,566) {-m_ref};
  \node[elabel] (lblhandle) at (69.2,801) {-m_handle};
  \node[elabel] (lblactivate) at (170,801) {+m_activate_function};
  \node[elabel] (lblmeshhandle) at (221,801) {+m_mesh_handle};
  \node[elabel] (lblcasemngref) at (267,801) {+m_case_mng_ref};
  \node[elabel] (lblconfig) at (310,801) {+m_config_list};
  \node[elabel] (lblservice) at (352,801) {+m_service_info};
  \node[elabel] (lblmodule) at (388,801) {+m_module};
  \node[elabel] (lblcasemng) at (418,801) {+m_case_mng};
  \node[elabel] (lbldocfrag) at (454,801) {+m_case_document\\_fragment};
  \node[elabel] (lblparent) at (492,801) {+m_parent};
  \node[elabel] (lblbcasemng) at (522,801) {-m_case_mng};
  \node[elabel] (lblbdocfrag) at (568,801) {-m_case_document_fragment};
  \node[elabel] (lblbparent) at (628,801) {-m_parent_option_list};
  \node[elabel] (lblnametr) at (723.5,801) {+m_name_translations};
  \node[elabel] (lbldefvals) at (772.5,801) {+m_default_values\\+m_name_translations};
  \node[elabel] (lblname) at (821,801) {+m_name\\+m_true_name};
  \node[elabel] (lblaxl) at (869.3,801) {+m_axl_default_value\\+m_default_value\\+m_name\\+m_true_name};
  \node[elabel] (lblroot) at (919.6,801) {+m_root_element};
  \node[elabel] (lblbasep) at (775,951) {-m_p};
  \node[elabel] (lbltypename) at (914.6,950.6) {-m_type_name};
  \node[elabel] (lbldelhandle) at (113.7,950.6) {\#m_handle};
  \node[elabel] (lblvaluesA) at (930,1160.3) {-m_values};
  \node[elabel] (lblcop) at (378.5,1160.4) {\#m_p};
  \node[elabel] (lblextdel) at (223.4,1160.4) {-m_external_deleter};
  \node[elabel] (lblvaluesB) at (960,1269.7) {-m_values};
  \node[elabel] (lblview) at (1034,1340.8) {-m_view};
  \node[elabel] (lblgroup) at (906,1504.4) {+group};
  \node[elabel] (lblvariable) at (940,1504.4) {+variable};
\end{tikzpicture}
\end{document}
